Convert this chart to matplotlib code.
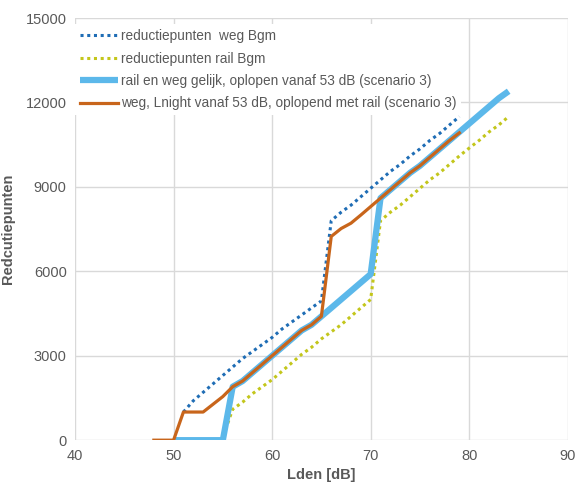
import matplotlib.pyplot as plt

# reductiepunten weg Bgm (blauw gestippeld)
weg_x = [51, 52, 53, 54, 55, 56, 57, 58, 59, 60, 61, 62, 63, 64, 65, 66, 67, 68, 69, 70,
         71, 72, 73, 74, 75, 76, 77, 78, 79]
weg_y = [1000, 1400, 1700, 2000, 2300, 2600, 2900, 3150, 3400, 3650, 3950, 4200, 4450, 4700, 4950,
         7800, 8100, 8350, 8650, 8950, 9250, 9550, 9800, 10100, 10350, 10650, 10900, 11200, 11500]

# reductiepunten rail Bgm (geel gestippeld)
rail_x = [55.5, 56, 57, 58, 59, 60, 61, 62, 63, 64, 65, 66, 67, 68, 69, 70,
          71, 72, 73, 74, 75, 76, 77, 78, 79, 80, 81, 82, 83, 84]
rail_y = [600, 1100, 1350, 1650, 1900, 2150, 2450, 2750, 3050, 3300, 3600, 3850, 4100, 4400, 4700, 5000,
          7800, 8100, 8350, 8650, 8950, 9250, 9500, 9800, 10100, 10380, 10650, 10950, 11200, 11500]

# scenario 3: rail en weg gelijk
gelijk_x = [50, 55, 56, 57, 58, 59, 60, 61, 62, 63, 64, 65, 67, 70,
            71, 72, 73, 74, 75, 76, 77, 78, 79, 80, 81, 82, 83, 84]
gelijk_y = [0, 0, 1900, 2100, 2400, 2700, 3000, 3300, 3600, 3900, 4100, 4400, 5000, 5900,
            8600, 8900, 9200, 9500, 9750, 10050, 10350, 10650, 10950, 11250, 11550, 11850, 12150, 12400]

# scenario 3: weg, Lnight vanaf 53 dB
lnight_x = [48, 50, 51, 53, 55, 56, 57, 58, 59, 60, 61, 62, 63, 64, 65, 66, 67, 68, 69, 70,
            71, 72, 73, 74, 75, 76, 77, 78, 79]
lnight_y = [0, 0, 1000, 1000, 1550, 1900, 2100, 2400, 2700, 3000, 3300, 3600, 3900, 4100, 4400,
            7240, 7520, 7710, 8000, 8300, 8600, 8900, 9200, 9500, 9750, 10050, 10350, 10650, 10920]

plt.rcParams['font.family'] = ['Liberation Sans', 'DejaVu Sans']
grijs = '#595959'

fig = plt.figure(figsize=(5.77, 4.88), dpi=100)
ax = fig.add_axes([0.130, 0.098, 0.854, 0.865])

ax.plot(weg_x, weg_y, color='#1f6db5', linewidth=2.2, linestyle=(0, (1, 1.2)),
        label='reductiepunten  weg Bgm')
ax.plot(rail_x, rail_y, color='#c3c61b', linewidth=2.2, linestyle=(0, (1, 1.2)),
        label='reductiepunten rail Bgm')
ax.plot(gelijk_x, gelijk_y, color='#5cb8ea', linewidth=4.5, solid_capstyle='butt',
        label='rail en weg gelijk, oplopen vanaf 53 dB (scenario 3)')
ax.plot(lnight_x, lnight_y, color='#c8651b', linewidth=2.3,
        label='weg, Lnight vanaf 53 dB, oplopend met rail (scenario 3)')

ax.set_xlim(40, 90)
ax.set_ylim(0, 15000)
ax.set_xticks(range(40, 91, 10))
ax.set_yticks(range(0, 15001, 3000))
ax.grid(True, color='#d9d9d9', linewidth=1)
ax.set_axisbelow(True)
for s in ax.spines.values():
    s.set_visible(False)
ax.tick_params(length=0, labelsize=10.5, colors=grijs, pad=6)

ax.set_xlabel('Lden [dB]', fontsize=10.5, fontweight='bold', color=grijs, labelpad=4)
ax.set_ylabel('Redcutiepunten', fontsize=10.5, fontweight='bold', color=grijs, labelpad=8)

leg = ax.legend(loc='upper left', bbox_to_anchor=(0.0, 0.985), fontsize=9.8, frameon=True,
                facecolor='white', edgecolor='none', framealpha=1, handlelength=2.8,
                handletextpad=0.2, labelspacing=0.62, borderaxespad=0.0, borderpad=0.35)
for t in leg.get_texts():
    t.set_color(grijs)
leg.get_frame().set_boxstyle('square', pad=0)

fig.savefig('out.png', dpi=100)
